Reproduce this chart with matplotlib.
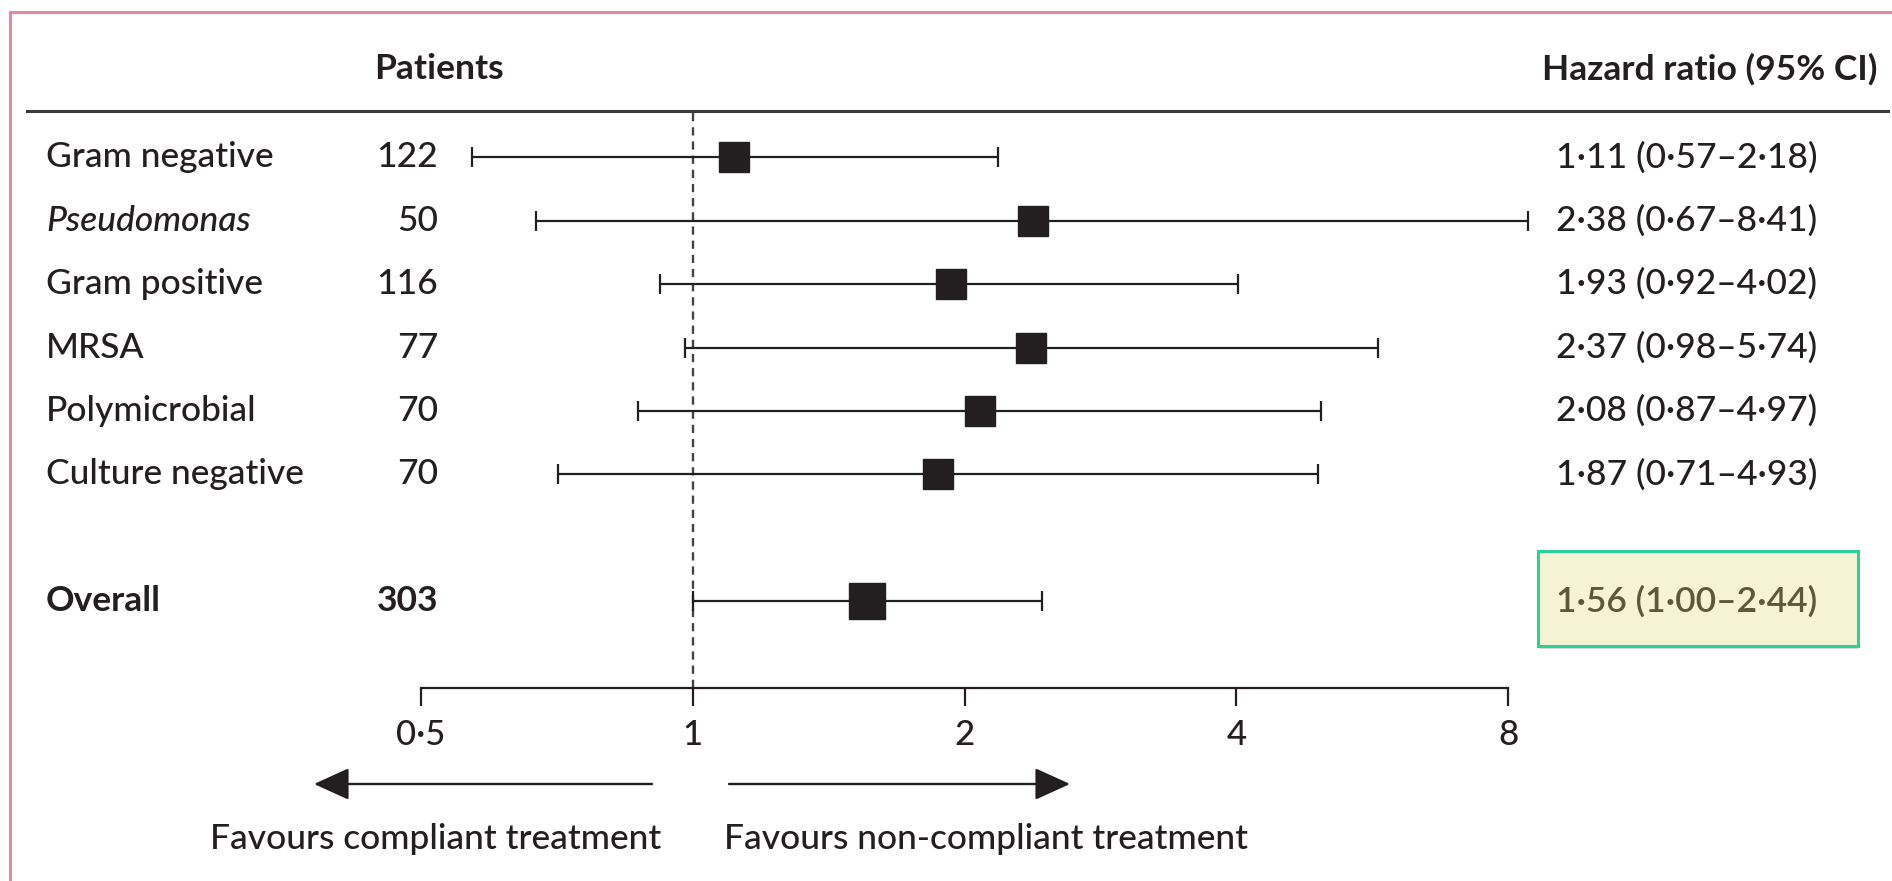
import matplotlib
matplotlib.use("Agg")
import matplotlib.pyplot as plt
from matplotlib.patches import Rectangle, FancyArrowPatch
from matplotlib.lines import Line2D
import matplotlib.transforms as mtransforms

plt.rcParams['font.family'] = ['Lato', 'DejaVu Sans']
plt.rcParams['font.weight'] = 'medium'

# data
subgroups = ["Gram negative", "Pseudomonas", "Gram positive", "MRSA", "Polymicrobial", "Culture negative"]
patients = [122, 50, 116, 77, 70, 70]
hr = [1.11, 2.38, 1.93, 2.37, 2.08, 1.87]
ci_low = [0.57, 0.67, 0.92, 0.98, 0.87, 0.71]
ci_high = [2.18, 8.41, 4.02, 5.74, 4.97, 4.93]
overall_n = 303
overall_hr = 1.56
overall_low = 1.00
overall_high = 2.44
xticks = [0.5, 1, 2, 4, 8]
xticklabels = ["0\u00b75", "1", "2", "4", "8"]

INK = "#231f20"
W, H = 1892, 881


def fx(px):
    return px / W


def fy(py):
    return 1 - py / H


def fmt(v):
    return f"{v:.2f}".replace(".", "\u00b7")


fig = plt.figure(figsize=(W / 100, H / 100), dpi=100)

# pink frame (left and top visible)
fig.add_artist(Rectangle((fx(10), fy(900)), 2.0, fy(12) - fy(900), transform=fig.transFigure,
                         fill=False, ec="#e8899d", lw=2.2))

# highlight box for the overall estimate, behind the axes
fig.add_artist(Rectangle((fx(1540), fy(649)), fx(1858) - fx(1540), (649 - 646) / H,
                         transform=fig.transFigure, fc="#d8d8d8", ec="none", zorder=-2))
fig.add_artist(Rectangle((fx(1538), fy(646)), fx(1858) - fx(1538), (646 - 551) / H,
                         transform=fig.transFigure, fc="#f4f4d4", ec="#2fcf98", lw=2.2, zorder=-1))

ax = fig.add_axes([fx(421), fy(688), fx(1508) - fx(421), (688 - 111) / H])
ax.set_xscale("log", base=2)
ax.set_xlim(0.5, 8)
ax.set_ylim(8.37, -0.73)
ax.patch.set_visible(False)
for s in ["top", "left", "right"]:
    ax.spines[s].set_visible(False)
ax.spines["bottom"].set_color(INK)
ax.spines["bottom"].set_linewidth(1.6)
ax.set_yticks([])
ax.set_xticks(xticks)
ax.set_xticklabels(xticklabels)
ax.xaxis.set_minor_locator(matplotlib.ticker.NullLocator())
ax.tick_params(axis="x", direction="out", length=13, width=1.6, color=INK,
               labelsize=25, labelcolor=INK, pad=9)

ax.axvline(1, color="#444444", lw=1.7, ls=(0, (3.5, 2.5)))

rows = list(range(len(subgroups)))
xerr = [[h - l for h, l in zip(hr, ci_low)], [u - h for h, u in zip(hr, ci_high)]]
ax.errorbar(hr, rows, xerr=xerr, fmt="s", color=INK, ms=21, elinewidth=1.6,
            capsize=7, capthick=1.6, clip_on=False)
overall_row = 7
ax.errorbar([overall_hr], [overall_row],
            xerr=[[overall_hr - overall_low], [overall_high - overall_hr]],
            fmt="s", color=INK, ms=26, elinewidth=1.6, capsize=7, capthick=1.6, clip_on=False)

trans = mtransforms.blended_transform_factory(fig.transFigure, ax.transData)
fs = 25.5
for i, name in enumerate(subgroups):
    style = "italic" if name == "Pseudomonas" else "normal"
    ax.text(fx(46), i, name, transform=trans, ha="left", va="center", fontsize=fs,
            color=INK, style=style)
    ax.text(fx(438), i, str(patients[i]), transform=trans, ha="right", va="center",
            fontsize=fs, color=INK)
    ax.text(fx(1556), i, f"{fmt(hr[i])} ({fmt(ci_low[i])}\u2013{fmt(ci_high[i])})",
            transform=trans, ha="left", va="center", fontsize=fs, color=INK)

ax.text(fx(46), overall_row, "Overall", transform=trans, ha="left", va="center",
        fontsize=fs, color=INK, weight="bold")
ax.text(fx(438), overall_row, str(overall_n), transform=trans, ha="right", va="center",
        fontsize=fs, color=INK, weight="bold")
ax.text(fx(1556), overall_row, f"{fmt(overall_hr)} ({fmt(overall_low)}\u2013{fmt(overall_high)})",
        transform=trans, ha="left", va="center", fontsize=fs, color="#5b5937", weight="semibold")

# header
fig.text(fx(374), fy(69), "Patients", ha="left", va="center", fontsize=fs, weight="bold", color=INK)
fig.text(fx(1542), fy(69), "Hazard ratio (95% CI)", ha="left", va="center", fontsize=fs,
         weight="bold", color=INK)
fig.add_artist(Line2D([fx(27), fx(1888)], [fy(111), fy(111)], color="#3a3a3a", lw=2.2))

# direction arrows
for x0, x1 in [(652, 314), (729, 1070)]:
    fig.add_artist(FancyArrowPatch((fx(x0), fy(784)), (fx(x1), fy(784)),
                                   transform=fig.transFigure, arrowstyle="-|>,head_length=1.1,head_width=0.5",
                                   mutation_scale=20, color=INK, lw=1.7, shrinkA=0, shrinkB=0))
fig.text(fx(436), fy(839), "Favours compliant treatment", ha="center", va="center",
         fontsize=fs, color=INK)
fig.text(fx(986), fy(839), "Favours non-compliant treatment", ha="center", va="center",
         fontsize=fs, color=INK)

fig.savefig("out.png", dpi=100)
